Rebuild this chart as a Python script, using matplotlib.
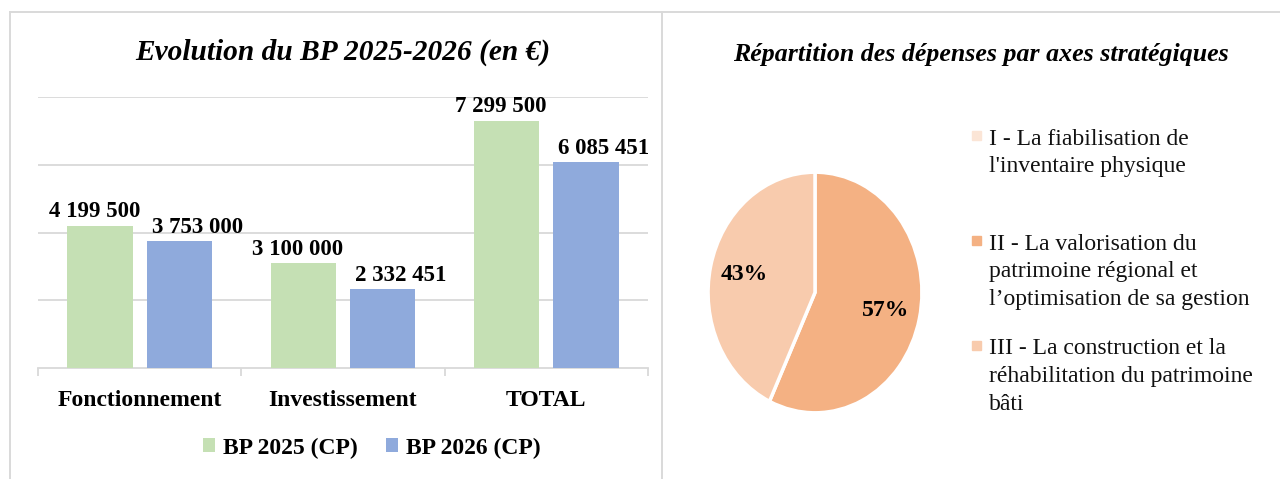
import numpy as np
import matplotlib
matplotlib.use("Agg")
import matplotlib.pyplot as plt
from matplotlib.lines import Line2D
from matplotlib.patches import Rectangle

plt.rcParams["font.family"] = ["Liberation Serif", "DejaVu Serif"]

# ---------- data ----------
categories = ["Fonctionnement", "Investissement", "TOTAL"]
bp2025 = [4199500, 3100000, 7299500]
bp2026 = [3753000, 2332451, 6085451]
series_names = ["BP 2025 (CP)", "BP 2026 (CP)"]

axes_labels = [
    "I - La fiabilisation de\nl'inventaire physique",
    "II - La valorisation du\npatrimoine régional et\nl’optimisation de sa gestion",
    "III - La construction et la\nréhabilitation du patrimoine\nbâti",
]
axes_pct = [0, 57, 43]

GREEN, BLUE = "#C5E0B4", "#8FAADC"
PIE_COLS = ["#FBE5D6", "#F4B183", "#F8CBAD"]
GRID = "#D9D9D9"

W, H = 1280, 479
fig = plt.figure(figsize=(W / 100, H / 100), dpi=100)

def fx(px): return px / W
def fy(py): return 1 - py / H

# panel frames
fig.add_artist(Line2D([fx(10), fx(10)], [0, fy(12)], color=GRID, lw=1.4))
fig.add_artist(Line2D([fx(10), fx(661)], [fy(12), fy(12)], color=GRID, lw=1.4))
fig.add_artist(Line2D([fx(662), fx(662)], [0, fy(12)], color=GRID, lw=1.4))
fig.add_artist(Line2D([fx(663), 1], [fy(12), fy(12)], color=GRID, lw=1.4))

# ---------- bar chart ----------
ax = fig.add_axes([fx(38), fy(368), fx(648) - fx(38), fy(97) - fy(368)])
x = np.arange(len(categories))
off, bw = 0.195, 0.32
b1 = ax.bar(x - off, bp2025, bw, color=GREEN, zorder=3, label=series_names[0])
b2 = ax.bar(x + off, bp2026, bw, color=BLUE, zorder=3, label=series_names[1])

ax.set_xlim(-0.5, 2.5)
ax.set_ylim(0, 8e6)
ax.set_yticks([2e6, 4e6, 6e6, 8e6])
ax.yaxis.grid(True, color=GRID, lw=1.3, zorder=0)
ax.tick_params(axis="y", length=0, labelleft=False)
for s in ["top", "right", "left"]:
    ax.spines[s].set_visible(False)
ax.spines["bottom"].set_color(GRID)
ax.spines["bottom"].set_linewidth(1.3)

ax.set_xticks(x)
ax.set_xticklabels(categories, fontsize=17, fontweight="bold")
ax.tick_params(axis="x", length=0, pad=16)
ax.set_xticks([-0.5, 0.5, 1.5, 2.5], minor=True)
ax.tick_params(axis="x", which="minor", length=6, width=1.3, color=GRID, direction="out")

def fmt(v):
    return f"{v:,}".replace(",", " ")

for bars, dx in [(b1, -4), (b2, 13)]:
    for r in bars:
        v = r.get_height()
        ax.annotate(fmt(int(v)), (r.get_x() + r.get_width() / 2, v),
                    xytext=(dx, 6), textcoords="offset points",
                    ha="center", va="baseline", fontsize=16.5, fontweight="bold")

fig.text(fx(343), fy(52), "Evolution du BP 2025-2026 (en €)", ha="center", va="center",
         fontsize=21.2, fontweight="bold", style="italic")

ax.legend(loc="center", bbox_to_anchor=(fx(372), fy(448)), bbox_transform=fig.transFigure,
          ncol=2, frameon=False, handlelength=0.5, handleheight=0.5, handletextpad=0.35,
          columnspacing=1.2, prop={"size": 17, "weight": "bold"})

# ---------- pie chart ----------
pax = fig.add_axes([fx(707), fy(414), fx(923) - fx(707), fy(171) - fy(414)])
wedges, _, autotexts = pax.pie(
    axes_pct, colors=PIE_COLS, startangle=90, counterclock=False,
    autopct=lambda p: f"{p:.0f}%" if p > 0 else "", pctdistance=0.68,
    wedgeprops=dict(edgecolor="white", linewidth=2.5),
    textprops=dict(fontsize=17, fontweight="bold"))
pax.set_aspect("auto")
pax.set_xlim(-1.01, 1.01)
pax.set_ylim(-1.01, 1.01)

fig.text(fx(981), fy(54), "Répartition des dépenses par axes stratégiques", ha="center",
         va="center", fontsize=18.6, fontweight="bold", style="italic")

# legend (first line of each entry aligned with its marker)
for i, (lab, col) in enumerate(zip(axes_labels, PIE_COLS)):
    yc = 138 + i * 105
    fig.add_artist(Rectangle((fx(972), fy(yc + 1.5)), fx(9), 9 / H, color=col,
                             transform=fig.transFigure))
    fig.text(fx(989), fy(yc - 9.5), lab, ha="left", va="top", fontsize=17,
             linespacing=1.41, color="#111111")

fig.savefig("out.png", dpi=100)
